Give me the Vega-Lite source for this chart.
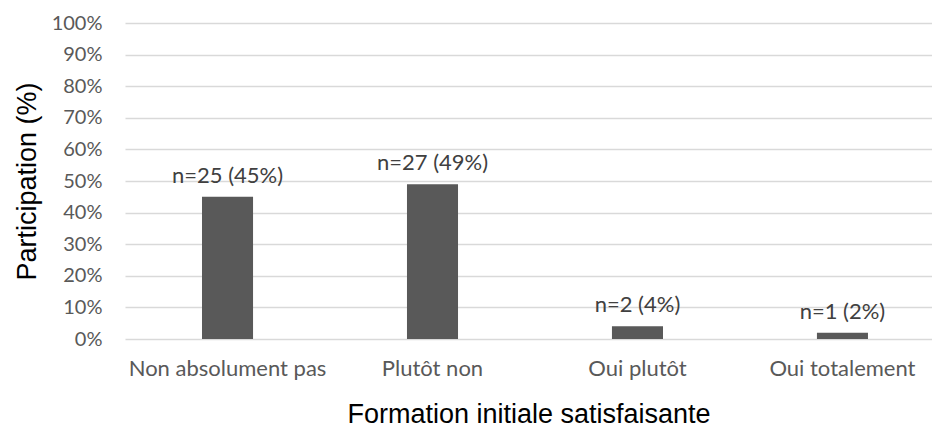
{
  "$schema": "https://vega.github.io/schema/vega-lite/v6.json",
  "autosize": {"type": "none"},
  "width": 807,
  "height": 316,
  "padding": {"left": 125, "top": 23, "right": 0, "bottom": 91},
  "background": "white",
  "data": {
    "values": [
      {"cat": "Non absolument pas", "pct": 45, "label": "n=25 (45%)"},
      {"cat": "Plutôt non", "pct": 49, "label": "n=27 (49%)"},
      {"cat": "Oui plutôt", "pct": 4, "label": "n=2 (4%)"},
      {"cat": "Oui totalement", "pct": 2, "label": "n=1 (2%)"}
    ]
  },
  "config": {
    "view": {"stroke": null},
    "axis": {"labelFont": "Lato", "titleFont": "Liberation Sans"}
  },
  "encoding": {
    "x": {
      "field": "cat",
      "type": "nominal",
      "sort": null,
      "scale": {"paddingInner": 0.751, "paddingOuter": 0.344, "align": 0.546},
      "axis": {
        "title": "Formation initiale satisfaisante",
        "titleFontSize": 27,
        "titleFontWeight": "normal",
        "titleColor": "#000000",
        "titlePadding": 22,
        "labelAngle": 0,
        "labelFontSize": 22,
        "labelColor": "#595959",
        "labelPadding": 19,
        "labelLimit": 400,
        "labelOverlap": false,
        "ticks": false,
        "domain": false,
        "grid": false
      }
    },
    "y": {
      "field": "pct",
      "type": "quantitative",
      "scale": {"domain": [0, 100], "nice": false},
      "axis": {
        "title": "Participation (%)",
        "titleFontSize": 27,
        "titleFontWeight": "normal",
        "titleColor": "#000000",
        "titlePadding": 10,
        "values": [0, 10, 20, 30, 40, 50, 60, 70, 80, 90, 100],
        "labelExpr": "datum.value + '%'",
        "labelFontSize": 20,
        "labelColor": "#595959",
        "labelPadding": 23,
        "ticks": false,
        "domain": false,
        "grid": true,
        "gridColor": "#d9d9d9",
        "gridWidth": 1.5
      }
    }
  },
  "layer": [
    {"mark": {"type": "bar", "color": "#595959"}},
    {
      "mark": {"type": "text", "font": "Lato", "fontSize": 22, "color": "#404040", "baseline": "alphabetic", "dy": -14},
      "encoding": {"text": {"field": "label"}}
    }
  ]
}
